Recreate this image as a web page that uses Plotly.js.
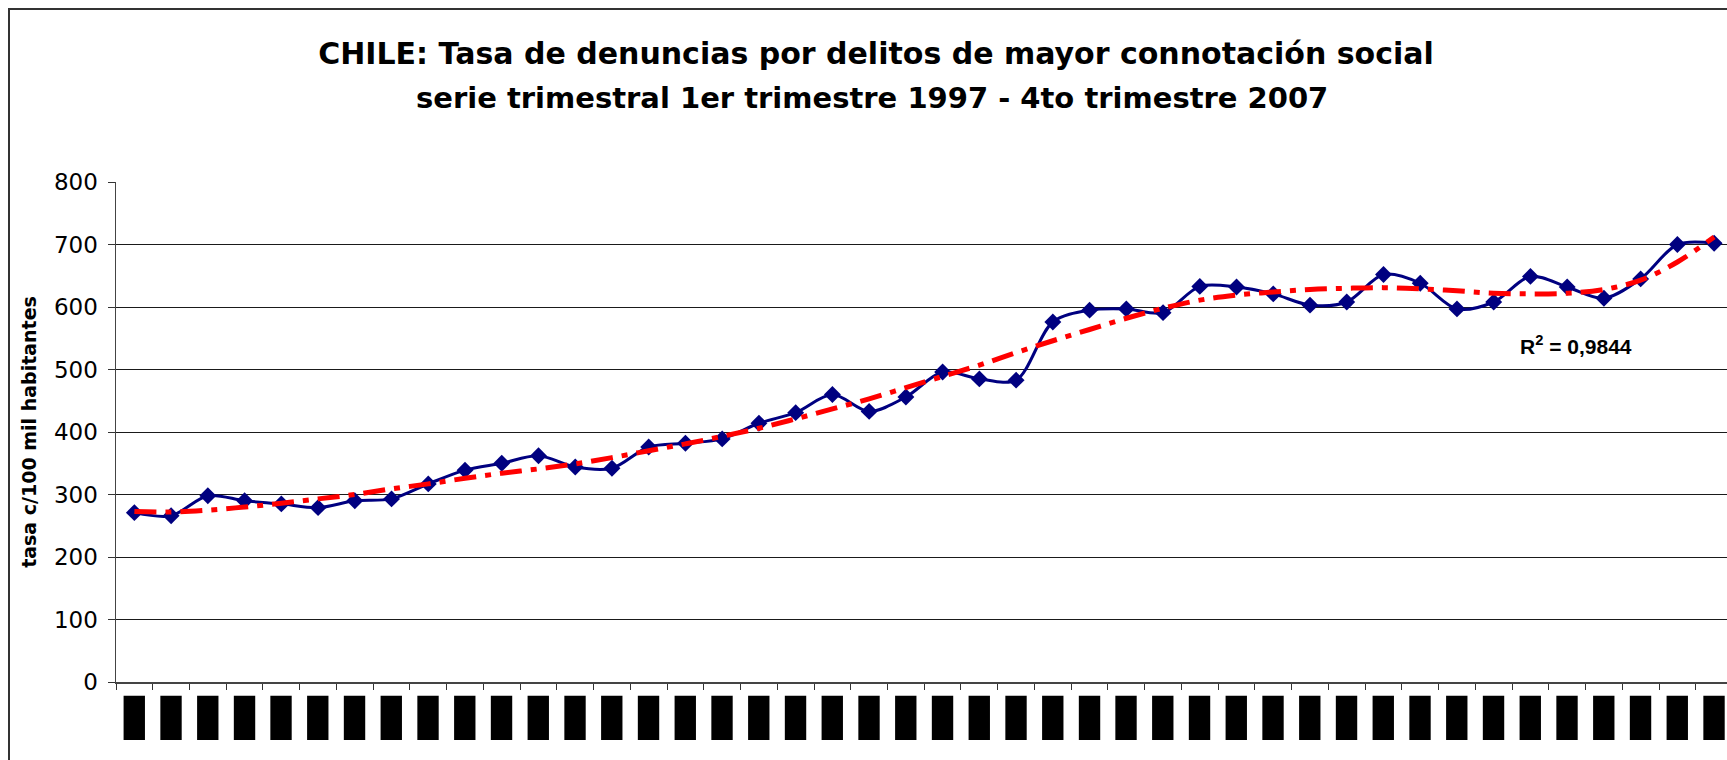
<!DOCTYPE html>
<html>
<head>
<meta charset="utf-8">
<script src="https://cdn.plot.ly/plotly-3.0.1.min.js"></script>
<style>
  html, body { margin: 0; padding: 0; background: #ffffff; }
  #chart { width: 1727px; height: 760px; }
</style>
</head>
<body>
<div id="chart"></div>
<script>
// Categories: quarters 1997 Q1 .. 2007 Q4
const quarters = [
  "1997-1","1997-2","1997-3","1997-4",
  "1998-1","1998-2","1998-3","1998-4",
  "1999-1","1999-2","1999-3","1999-4",
  "2000-1","2000-2","2000-3","2000-4",
  "2001-1","2001-2","2001-3","2001-4",
  "2002-1","2002-2","2002-3","2002-4",
  "2003-1","2003-2","2003-3","2003-4",
  "2004-1","2004-2","2004-3","2004-4",
  "2005-1","2005-2","2005-3","2005-4",
  "2006-1","2006-2","2006-3","2006-4",
  "2007-1","2007-2","2007-3","2007-4"
];

// Rate of complaints per 100,000 inhabitants
const tasa = [
  271, 266, 298, 290,
  285, 279, 290, 293,
  317, 339, 350, 362,
  344, 342, 376, 382,
  389, 414, 431, 460,
  433, 456, 496, 485,
  483, 576, 595, 597,
  591, 633, 632, 621,
  603, 608, 652, 638,
  597, 608, 649, 632,
  614, 645, 700, 702
];

// Polynomial trend line as drawn in the chart
const tendencia = [
  273, 272, 275, 280,
  286, 293, 300, 309,
  317, 326, 334, 341,
  349, 359, 370, 381,
  393, 406, 421, 437,
  453, 471, 489, 507,
  527, 546, 564, 582,
  598, 611, 619, 624,
  628, 630, 631, 629,
  626, 622, 621, 622,
  628, 643, 672, 712
];

// Category tick labels appear as solid black blocks in the reference
const tickBlocks = quarters.map(() => "\u25AE");

const yTicks = [0, 100, 200, 300, 400, 500, 600, 700, 800];

const titleLine1 = "CHILE: Tasa de denuncias por delitos de mayor connotación social";
const titleLine2 = "serie trimestral 1er trimestre 1997 - 4to trimestre 2007";
const yTitle = "tasa c/100 mil habitantes";
const r2Label = "R<sup>2</sup> = 0,9844";

const traces = [
  {
    type: "scatter",
    mode: "lines+markers",
    x: quarters,
    y: tasa,
    name: "tasa",
    line: { color: "#000080", width: 3, shape: "spline", smoothing: 0.9 },
    marker: { symbol: "diamond", size: 13, color: "#000080" },
    cliponaxis: false,
    showlegend: false
  },
  {
    type: "scatter",
    mode: "lines",
    x: quarters,
    y: tendencia,
    name: "tendencia",
    line: { color: "#FF0000", width: 5, dash: "22px,9px,6px,9px", shape: "spline", smoothing: 1 },
    showlegend: false
  }
];

const layout = {
  width: 1727,
  height: 760,
  paper_bgcolor: "#ffffff",
  plot_bgcolor: "#ffffff",
  margin: { l: 116, r: 0, t: 182, b: 78 },
  font: { family: "Liberation Sans, Arial, sans-serif", color: "#000000" },
  title: {
    text: titleLine1,
    font: { family: "DejaVu Sans", size: 30, weight: "bold", color: "#000000" },
    x: 876 / 1727,
    xref: "container",
    xanchor: "center",
    y: 1 - 43 / 760,
    yref: "container",
    yanchor: "top"
  },
  xaxis: {
    type: "category",
    categoryorder: "array",
    categoryarray: quarters,
    range: [-0.5, 43.35],
    tickmode: "array",
    tickvals: quarters,
    ticktext: tickBlocks,
    tickson: "boundaries",
    ticks: "outside",
    ticklen: 6,
    tickwidth: 1,
    tickcolor: "#333333",
    tickangle: 0,
    ticklabelstandoff: -20,
    tickfont: { family: "DejaVu Sans", size: 58, color: "#000000" },
    showgrid: false,
    showline: true,
    linecolor: "#444444",
    linewidth: 1.5,
    zeroline: false,
    fixedrange: true
  },
  yaxis: {
    range: [0, 800],
    tickmode: "array",
    tickvals: yTicks,
    ticktext: yTicks.map(String),
    ticks: "outside",
    ticklen: 7,
    tickwidth: 1,
    tickcolor: "#333333",
    ticklabelstandoff: 5,
    tickfont: { family: "DejaVu Sans", size: 23, color: "#000000" },
    showgrid: true,
    gridcolor: "#1a1a1a",
    gridwidth: 1,
    showline: true,
    linecolor: "#444444",
    linewidth: 1.5,
    zeroline: false,
    fixedrange: true,
    title: {
      text: yTitle,
      font: { family: "DejaVu Sans", size: 19, weight: "bold", color: "#000000" },
      standoff: 12
    }
  },
  annotations: [
    {
      x: 39.24,
      y: 540,
      xref: "x",
      yref: "y",
      text: r2Label,
      showarrow: false,
      xanchor: "center",
      yanchor: "middle",
      font: { family: "Liberation Sans, Arial, sans-serif", size: 21, weight: "bold", color: "#000000" }
    },
    {
      x: (872 - 116) / 1611,
      y: 1 + (182 - 98) / 500,
      xref: "paper",
      yref: "paper",
      text: titleLine2,
      showarrow: false,
      xanchor: "center",
      yanchor: "middle",
      font: { family: "DejaVu Sans", size: 29, weight: "bold", color: "#000000" }
    }
  ],
  shapes: [
    {
      type: "rect",
      xref: "paper",
      yref: "paper",
      x0: (9 - 116) / 1611,
      x1: 1.1,
      y0: -0.3,
      y1: 1 + (182 - 9) / 500,
      line: { color: "#333333", width: 2 },
      fillcolor: "rgba(0,0,0,0)",
      layer: "below"
    }
  ]
};

Plotly.newPlot("chart", traces, layout, { displayModeBar: false, staticPlot: true });
</script>
</body>
</html>
